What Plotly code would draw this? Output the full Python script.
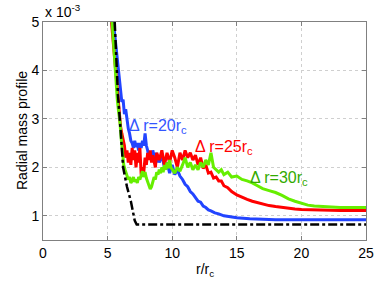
import plotly.graph_objects as go

# values in units of 1e-3
blue_x = [5.45, 5.6, 5.8, 5.9, 6.0, 6.1, 6.2, 6.3, 6.4, 6.5, 6.6, 6.7, 6.8, 6.9, 7.0, 7.1, 7.2, 7.3, 7.4, 7.5,
          7.6, 7.7, 7.8, 7.9, 8.0, 8.1, 8.2, 8.3, 8.4, 8.5, 8.6, 8.7, 8.8, 8.9, 9.0, 9.2, 9.4, 9.6, 9.8, 10.0,
          10.2, 10.4, 10.6, 10.8, 11.0, 11.2, 11.4, 11.6, 11.8, 12.0, 12.2, 12.4, 12.6, 12.8, 13.0, 13.3, 13.6,
          14.0, 14.5, 15.0, 16.0, 17.0, 18.0, 20.0, 22.0, 25.0]
blue_y = [5.0, 4.6, 4.1, 3.8, 3.6, 3.35, 3.4, 3.1, 3.2, 2.95, 2.8, 2.7, 2.55, 2.5, 2.4, 2.55, 2.42, 2.5, 2.35, 2.5,
          2.4, 2.55, 2.45, 2.7, 2.45, 2.35, 2.2, 2.3, 2.15, 2.35, 2.2, 2.3, 2.1, 2.25, 2.1, 2.25, 2.0, 2.1, 1.88, 2.05,
          1.85, 1.95, 1.82, 1.75, 1.65, 1.6, 1.5, 1.45, 1.36, 1.3, 1.28, 1.2, 1.17, 1.12, 1.1, 1.06, 1.04,
          1.0, 0.98, 0.96, 0.94, 0.93, 0.92, 0.92, 0.92, 0.92]

red_x = [5.3, 5.45, 5.6, 5.75, 5.9, 6.0, 6.1, 6.2, 6.3, 6.4, 6.5, 6.6, 6.7, 6.8, 6.9, 7.0, 7.1, 7.2, 7.3, 7.4,
         7.5, 7.6, 7.7, 7.8, 7.9, 8.0, 8.1, 8.2, 8.3, 8.4, 8.5, 8.7, 8.8, 9.0, 9.2, 9.4, 9.6, 9.8, 10.0, 10.2,
         10.4, 10.6, 10.8, 11.0, 11.2, 11.4, 11.6, 11.8, 12.0, 12.2, 12.4, 12.6, 12.8, 13.0, 13.2, 13.4, 13.6,
         13.8, 14.0, 14.3, 14.6, 15.0, 15.4, 15.8, 16.2, 16.6, 17.0, 17.5, 18.0, 18.5, 19.0, 19.5, 20.0, 21.0,
         22.0, 23.0, 25.0]
red_y = [5.0, 4.5, 4.0, 3.5, 3.1, 2.85, 2.7, 2.55, 2.45, 2.2, 2.35, 2.1, 2.3, 2.05, 2.4, 2.15, 2.35, 2.0, 2.3, 2.1,
         2.4, 1.85, 2.0, 1.9, 2.2, 2.05, 2.3, 2.15, 2.35, 2.1, 2.25, 2.0, 2.3, 2.15, 2.35, 2.05, 2.3, 2.1, 2.35, 2.2,
         2.0, 2.3, 2.15, 2.35, 2.2, 2.3, 2.15, 2.25, 2.05, 2.2, 1.98, 2.05, 1.88, 1.9, 1.78, 1.8, 1.72,
         1.72, 1.62, 1.58, 1.5, 1.43, 1.38, 1.34, 1.3, 1.27, 1.24, 1.21, 1.19, 1.17, 1.15, 1.14, 1.13, 1.12,
         1.11, 1.11, 1.11]

green_x = [5.35, 5.45, 5.55, 5.65, 5.75, 5.85, 5.95, 6.05, 6.15, 6.25, 6.35, 6.5, 6.6, 6.7, 6.8, 6.9, 7.0, 7.1,
           7.2, 7.3, 7.4, 7.5, 7.6, 7.7, 7.8, 7.9, 8.0, 8.1, 8.2, 8.3, 8.4, 8.5, 8.6, 8.7, 8.8, 8.9, 9.0, 9.1,
           9.2, 9.3, 9.4, 9.5, 9.6, 9.7, 9.8, 9.9, 10.0, 10.2, 10.4, 10.6, 10.8, 11.0, 11.2, 11.4, 11.6, 11.8,
           12.0, 12.2, 12.4, 12.6, 12.8, 13.0, 13.2, 13.4, 13.6, 13.8, 14.0, 14.3, 14.6, 15.0, 15.4, 15.8, 16.2,
           16.6, 17.0, 17.5, 18.0, 18.5, 19.0, 19.5, 20.0, 20.5, 21.0, 22.0, 23.0, 25.0]
green_y = [5.0, 4.6, 4.1, 3.7, 3.4, 3.15, 2.95, 2.6, 2.3, 2.05, 1.95, 1.85, 1.75, 1.8, 1.68, 1.72, 1.8, 1.7,
           1.75, 1.68, 1.8, 1.75, 1.85, 1.92, 1.8, 1.9, 1.78, 1.7, 1.62, 1.55, 1.6, 1.72, 1.8, 1.75, 1.9, 1.85, 1.95, 1.88,
           2.0, 1.9, 2.05, 1.95, 2.1, 1.98, 2.15, 2.0, 1.95, 1.88, 2.0, 1.92, 2.05, 2.2, 2.0, 2.1, 1.95, 2.05,
           1.95, 2.1, 2.0, 2.15, 2.05, 2.3, 2.0, 1.95, 1.9, 1.95, 1.85, 1.9, 1.8, 1.82, 1.75, 1.72, 1.68,
           1.62, 1.56, 1.52, 1.48, 1.42, 1.35, 1.3, 1.26, 1.22, 1.2, 1.18, 1.17, 1.17]

black_x = [5.55, 5.65, 5.8, 6.0, 6.2, 6.5, 6.8, 7.1, 7.25, 25.0]
black_y = [5.0, 4.3, 3.5, 2.8, 2.0, 1.6, 1.3, 0.9, 0.82, 0.82]

x_ticks = [0, 5, 10, 15, 20, 25]
y_ticks = [1, 2, 3, 4, 5]

FONT = "Liberation Sans, Arial, sans-serif"
BLUE = "#2244ff"
RED = "#ff0000"
GREEN = "#66ee00"

fig = go.Figure()
fig.add_trace(go.Scatter(x=blue_x, y=blue_y, mode="lines", line=dict(color=BLUE, width=3)))
fig.add_trace(go.Scatter(x=red_x, y=red_y, mode="lines", line=dict(color=RED, width=3)))
fig.add_trace(go.Scatter(x=green_x, y=green_y, mode="lines", line=dict(color=GREEN, width=3)))
fig.add_trace(go.Scatter(x=black_x, y=black_y, mode="lines", line=dict(color="black", width=2.5, dash="dashdot")))

axis_common = dict(showline=True, mirror="ticks", linecolor="#808080", linewidth=1,
                   ticks="inside", ticklen=4, tickcolor="#808080", automargin=False,
                   ticklabeloverflow="allow",
                   showgrid=True, gridcolor="#cfcfcf", griddash="dot", gridwidth=1,
                   zeroline=False, tickfont=dict(family=FONT, size=14, color="black"))

fig.update_xaxes(range=[0, 25], tickvals=x_ticks, ticktext=[str(v) for v in x_ticks], **axis_common)
fig.update_yaxes(range=[0.5, 5], tickvals=y_ticks, ticktext=[str(v) for v in y_ticks], **axis_common)

fig.add_annotation(x=0.5, y=0, xref="paper", yref="paper", xanchor="center", yanchor="top", yshift=-19,
                   text="r/r<sub>c</sub>", showarrow=False, font=dict(family=FONT, size=14, color="black"))
fig.add_annotation(x=0, y=0.5, xref="paper", yref="paper", xanchor="center", yanchor="middle", xshift=-21,
                   textangle=-90, text="Radial mass profile", showarrow=False,
                   font=dict(family=FONT, size=14, color="black"))
fig.add_annotation(x=0, y=1, xref="paper", yref="paper", xanchor="left", yanchor="bottom",
                   text="x 10<sup>-3</sup>", showarrow=False, font=dict(family=FONT, size=14, color="black"))
fig.add_annotation(x=6.5, y=2.84, xanchor="left", yanchor="middle", text="Δ r=20r<sub>c</sub>",
                   showarrow=False, font=dict(family=FONT, size=16, color="#3355ff"))
fig.add_annotation(x=11.6, y=2.4, xanchor="left", yanchor="middle", text="Δ r=25r<sub>c</sub>",
                   showarrow=False, font=dict(family=FONT, size=16, color=RED))
fig.add_annotation(x=15.85, y=1.77, xanchor="left", yanchor="middle", text="Δ r=30r<sub>c</sub>",
                   showarrow=False, font=dict(family=FONT, size=16, color="#33aa00"))

fig.update_layout(width=374, height=281, margin=dict(l=43, r=8, t=22, b=41, autoexpand=False),
                  paper_bgcolor="white", plot_bgcolor="white", showlegend=False)

fig.write_html("out.html", config={"displayModeBar": False},
               post_script="document.body.style.margin='0';")
